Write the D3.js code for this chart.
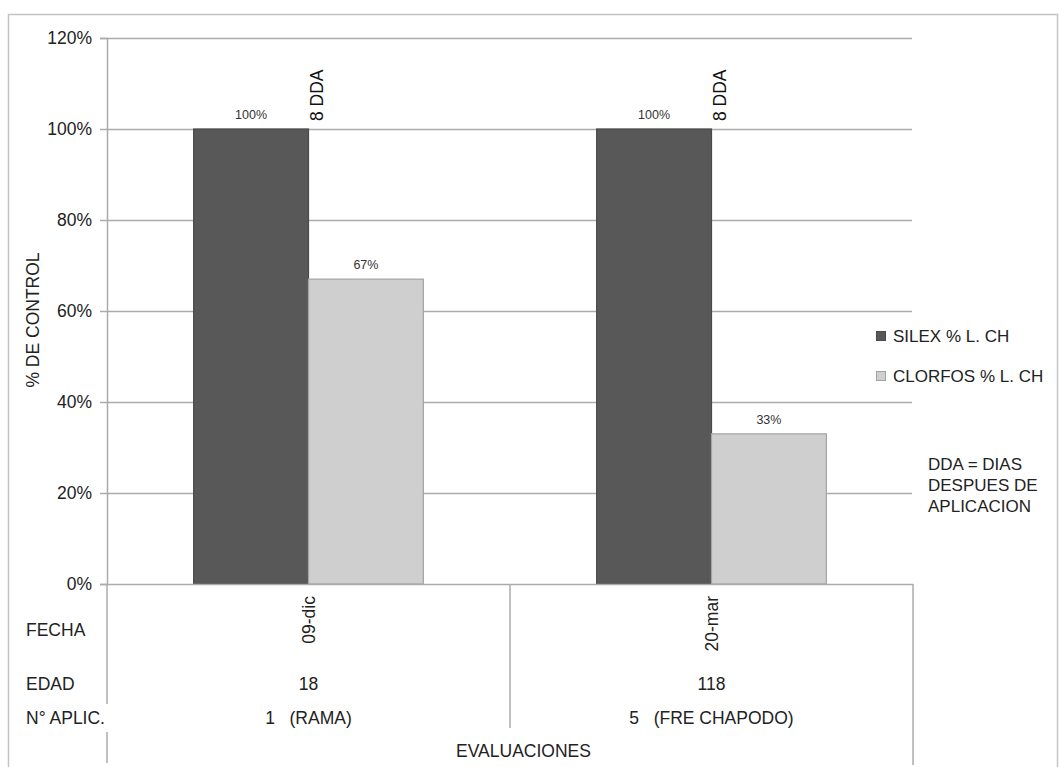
<!DOCTYPE html>
<html>
<head>
<meta charset="utf-8">
<script src="https://cdn.jsdelivr.net/npm/d3@7"></script>
<style>
  html, body { margin: 0; padding: 0; background: #fff; }
  svg { display: block; font-family: "Liberation Sans", Arial, sans-serif; }
</style>
</head>
<body>
<svg id="chart" width="1059" height="767"></svg>
<script>
// Evaluations (x categories) and their table rows
const categories = ["09-dic", "20-mar"];
const edad = ["18", "118"];
const aplicaciones = ["1   (RAMA)", "5   (FRE CHAPODO)"];
const ddaNotes = ["8 DDA", "8 DDA"];

// Series
const seriesNames = ["SILEX % L. CH", "CLORFOS % L. CH"];
const silex = [1.00, 1.00];
const clorfos = [0.67, 0.33];
const seriesValues = [silex, clorfos];
const seriesColors = ["#585858", "#cfcfcf"];
const seriesStroke = ["#4a4a4a", "#a3a3a3"];

// Y axis ticks
const yTicks = [0, 0.2, 0.4, 0.6, 0.8, 1.0, 1.2];

const rowLabels = ["FECHA", "EDAD", "N° APLIC."];
const noteLines = ["DDA = DIAS", "DESPUES DE", "APLICACION"];

const svg = d3.select("#chart");
const plot = { left: 107, right: 912, top: 38, bottom: 584 };

// Outer frame
svg.append("rect")
  .attr("x", 8.5).attr("y", 14.5)
  .attr("width", 1049).attr("height", 780)
  .attr("fill", "none").attr("stroke", "#c4c4c4").attr("stroke-width", 1.5);

const y = d3.scaleLinear().domain([0, 1.2]).range([plot.bottom, plot.top]);

const x0 = d3.scaleBand()
  .domain(categories)
  .range([plot.left, plot.right + 1])
  .paddingInner(0.43)
  .paddingOuter(0.215);

const x1 = d3.scaleBand()
  .domain(d3.range(seriesNames.length))
  .range([0, x0.bandwidth()])
  .padding(0);

// Gridlines
svg.append("g")
  .selectAll("line")
  .data(yTicks.filter(t => t > 0))
  .join("line")
  .attr("x1", plot.left).attr("x2", plot.right)
  .attr("y1", d => Math.round(y(d)) + 0.5).attr("y2", d => Math.round(y(d)) + 0.5)
  .attr("stroke", "#ababab").attr("stroke-width", 1.5);

// Y axis
const yAxis = svg.append("g")
  .attr("transform", `translate(${plot.left},0)`)
  .call(d3.axisLeft(y).tickValues(yTicks).tickFormat(d3.format(".0%")).tickSize(7).tickPadding(8));
yAxis.select(".domain").attr("stroke", "#ababab").attr("stroke-width", 1.5);
yAxis.selectAll(".tick line").attr("stroke", "#ababab").attr("stroke-width", 1.5);
yAxis.selectAll(".tick text")
  .attr("font-size", 17.5).attr("fill", "#222")
  .attr("font-family", "Liberation Sans, Arial, sans-serif");

// Y axis title
svg.append("text")
  .attr("transform", `translate(39,${320}) rotate(-90)`)
  .attr("text-anchor", "middle")
  .attr("font-size", 17.5).attr("fill", "#222")
  .text("% DE CONTROL");

// Bars
const groups = svg.append("g")
  .selectAll("g")
  .data(categories)
  .join("g")
  .attr("transform", d => `translate(${x0(d)},0)`);

groups.selectAll("rect")
  .data((d, i) => seriesValues.map((s, k) => ({ k, v: s[i] })))
  .join("rect")
  .attr("x", d => x1(d.k))
  .attr("y", d => y(d.v))
  .attr("width", x1.bandwidth())
  .attr("height", d => y(0) - y(d.v))
  .attr("fill", d => seriesColors[d.k])
  .attr("stroke", d => seriesStroke[d.k])
  .attr("stroke-width", 1.2);

// Value labels
groups.selectAll("text.val")
  .data((d, i) => seriesValues.map((s, k) => ({ k, v: s[i] })))
  .join("text")
  .attr("class", "val")
  .attr("x", d => x1(d.k) + x1.bandwidth() / 2)
  .attr("y", d => y(d.v) - 10)
  .attr("text-anchor", "middle")
  .attr("font-size", 12.5).attr("fill", "#333")
  .text(d => d3.format(".0%")(d.v));

// DDA notes beside the first series bar
groups.append("text")
  .attr("transform", (d, i) => `translate(${x1(0) + x1.bandwidth() + 14},${y(silex[i]) - 8}) rotate(-90)`)
  .attr("font-size", 17.5).attr("fill", "#111")
  .text((d, i) => ddaNotes[i]);

// X axis base line
svg.append("line")
  .attr("x1", plot.left).attr("x2", plot.right + 1)
  .attr("y1", y(0) + 0.5).attr("y2", y(0) + 0.5)
  .attr("stroke", "#ababab").attr("stroke-width", 1.5);

// Table dividers below the axis
const dividers = [
  { x: plot.left, y2: 763 },
  { x: x0(categories[1]) - x0.step() * x0.paddingInner() / 2, y2: 728 },
  { x: plot.right + 1, y2: 765 }
];
svg.append("g").selectAll("line")
  .data(dividers)
  .join("line")
  .attr("x1", d => d.x).attr("x2", d => d.x)
  .attr("y1", y(0)).attr("y2", d => d.y2)
  .attr("stroke", "#ababab").attr("stroke-width", 1.5);

// Date labels (rotated)
svg.append("g").selectAll("text")
  .data(categories)
  .join("text")
  .attr("transform", d => `translate(${x0(d) + x0.bandwidth() / 2 + 6},${y(0) + 12}) rotate(-90)`)
  .attr("text-anchor", "end")
  .attr("font-size", 17.5).attr("fill", "#222")
  .text(d => d);

// Age row
svg.append("g").selectAll("text")
  .data(edad)
  .join("text")
  .attr("x", (d, i) => x0(categories[i]) + x0.bandwidth() / 2)
  .attr("y", 684)
  .attr("dominant-baseline", "central")
  .attr("text-anchor", "middle")
  .attr("font-size", 17.5).attr("fill", "#222")
  .text(d => d);

// Application row
svg.append("g").selectAll("text")
  .data(aplicaciones)
  .join("text")
  .attr("x", (d, i) => x0(categories[i]) + x0.bandwidth() / 2)
  .attr("y", 718)
  .attr("dominant-baseline", "central")
  .attr("text-anchor", "middle")
  .attr("font-size", 17.5).attr("fill", "#222")
  .attr("xml:space", "preserve")
  .style("white-space", "pre")
  .text(d => d);

// Row headers
const rowY = [630, 684, 718];
const rowG = svg.append("g");
rowLabels.forEach((lab, i) => {
  const t = rowG.append("text")
    .attr("x", 26).attr("y", rowY[i])
    .attr("dominant-baseline", "central")
    .attr("font-size", 17.5).attr("fill", "#222")
    .text(lab);
  if (i === 2) {
    const b = t.node().getBBox();
    rowG.insert("rect", "text")
      .attr("x", b.x).attr("y", b.y - 4)
      .attr("width", b.width + 6).attr("height", b.height + 8)
      .attr("fill", "#fff");
  }
});

// Axis title
svg.append("text")
  .attr("x", (plot.left + plot.right) / 2 + 14)
  .attr("y", 751)
  .attr("dominant-baseline", "central")
  .attr("text-anchor", "middle")
  .attr("font-size", 17.5).attr("fill", "#222")
  .text("EVALUACIONES");

// Legend
const legend = svg.append("g").attr("transform", "translate(876,336)");
const li = legend.selectAll("g")
  .data(seriesNames)
  .join("g")
  .attr("transform", (d, i) => `translate(0,${i * 40})`);
li.append("rect")
  .attr("x", 0.5).attr("y", -4.5)
  .attr("width", 9).attr("height", 9)
  .attr("fill", (d, i) => seriesColors[i])
  .attr("stroke", (d, i) => seriesStroke[i]);
li.append("text")
  .attr("x", 17).attr("y", 0)
  .attr("dominant-baseline", "central")
  .attr("font-size", 17).attr("fill", "#222")
  .text(d => d);

// Note
svg.append("g").selectAll("text")
  .data(noteLines)
  .join("text")
  .attr("x", 928)
  .attr("y", (d, i) => 464 + i * 21)
  .attr("dominant-baseline", "central")
  .attr("font-size", 17).attr("fill", "#222")
  .text(d => d);
</script>
</body>
</html>
